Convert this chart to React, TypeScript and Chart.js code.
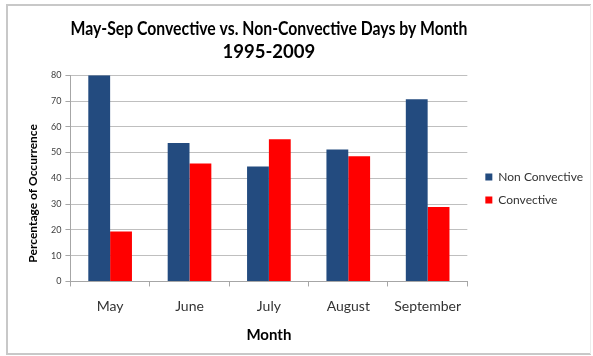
import React, { useEffect, useRef } from "react";
import { Chart, registerables } from "chart.js";

Chart.register(...registerables);

const months = ["May", "June", "July", "August", "September"];
const nonConvective = [80, 53.7, 44.6, 51.2, 70.7];
const convective = [19.4, 45.8, 55.2, 48.6, 28.9];
const yTicks = [0, 10, 20, 30, 40, 50, 60, 70, 80];
const yTitle = "Percentage of Occurrence";

const FONT = "Lato, 'Open Sans', sans-serif";

const framePlugin = {
  id: "frame",
  beforeDraw(chart: any) {
    const ctx = chart.ctx;
    ctx.save();
    ctx.fillStyle = "#ffffff";
    ctx.fillRect(0, 0, chart.width, chart.height);
    ctx.strokeStyle = "#c8c8c8";
    ctx.lineWidth = 2;
    ctx.beginPath();
    ctx.moveTo(591, 5);
    ctx.lineTo(7, 5);
    ctx.lineTo(7, 354);
    ctx.lineTo(591, 354);
    ctx.stroke();
    ctx.strokeStyle = "#ececec";
    ctx.lineWidth = 1;
    ctx.beginPath();
    ctx.moveTo(590.5, 5);
    ctx.lineTo(590.5, 354);
    ctx.stroke();
    ctx.restore();
  },
  afterDraw(chart: any) {
    const ctx = chart.ctx;
    const a = chart.chartArea;
    ctx.save();
    ctx.translate(33, (a.top + a.bottom) / 2 + 15);
    ctx.rotate(-Math.PI / 2);
    ctx.font = `bold 12px ${FONT}`;
    ctx.fillStyle = "#000000";
    ctx.textAlign = "center";
    ctx.textBaseline = "middle";
    ctx.fillText(yTitle, 0, 0);
    ctx.restore();
  },
};

const legendShift = {
  id: "legendShift",
  afterLayout(chart: any) {
    const lg = chart.legend;
    if (!lg) return;
    lg.left += 7;
    lg.right += 7;
    lg.top += 17;
    lg.bottom += 17;
  },
};

export default function App() {
  const ref = useRef<HTMLCanvasElement | null>(null);
  useEffect(() => {
    if (!ref.current) return;
    const chart = new Chart(ref.current, {
      type: "bar",
      data: {
        labels: months,
        datasets: [
          {
            label: "Non Convective",
            data: nonConvective,
            backgroundColor: "#234B7F",
            categoryPercentage: 0.55,
            barPercentage: 1,
          },
          {
            label: "Convective",
            data: convective,
            backgroundColor: "#FF0000",
            categoryPercentage: 0.55,
            barPercentage: 1,
          },
        ],
      },
      options: {
        animation: false,
        responsive: false,
        layout: { padding: { left: 47, top: 0, right: 7, bottom: 13 } },
        plugins: {
          title: {
            display: true,
            text: ["May-Sep Convective vs. Non-Convective Days by Month", "1995-2009"],
            fullSize: false,
            font: { family: FONT, size: 18.5, weight: "bold", lineHeight: 1.25 },
            color: "#000000",
            padding: { top: 17, bottom: 12 },
          },
          legend: {
            position: "right",
            align: "center",
            labels: {
              boxWidth: 7,
              boxHeight: 7,
              padding: 11,
              font: { family: FONT, size: 12 },
              color: "#333333",
            },
          },
          tooltip: { enabled: false },
        },
        scales: {
          x: {
            grid: {
              offset: true,
              drawOnChartArea: false,
              drawTicks: true,
              tickLength: 5,
              color: "#a6a6a6",
            },
            border: { color: "#a6a6a6" },
            ticks: {
              font: { family: FONT, size: 14 },
              color: "#333333",
              padding: 12,
            },
            title: {
              display: true,
              text: "Month",
              font: { family: FONT, size: 15, weight: "bold", lineHeight: 1.05 },
              color: "#000000",
              padding: { top: 0, bottom: 0 },
            },
          },
          y: {
            min: 0,
            max: 80,
            afterBuildTicks(axis: any) {
              axis.ticks = yTicks.map((v) => ({ value: v }));
            },
            grid: {
              color: "#bfbfbf",
              tickLength: 5,
              tickColor: "#a6a6a6",
            },
            border: { color: "#a6a6a6" },
            ticks: {
              font: { family: FONT, size: 9 },
              color: "#404040",
              padding: 4,
            },
            title: { display: false },
          },
        },
      },
      plugins: [framePlugin, legendShift],
    });
    return () => chart.destroy();
  }, []);
  return (
    <div style={{ position: "fixed", left: 0, top: 0, width: 593, height: 356, background: "#fff" }}>
      <canvas ref={ref} width={593} height={356} style={{ display: "block" }} />
    </div>
  );
}
